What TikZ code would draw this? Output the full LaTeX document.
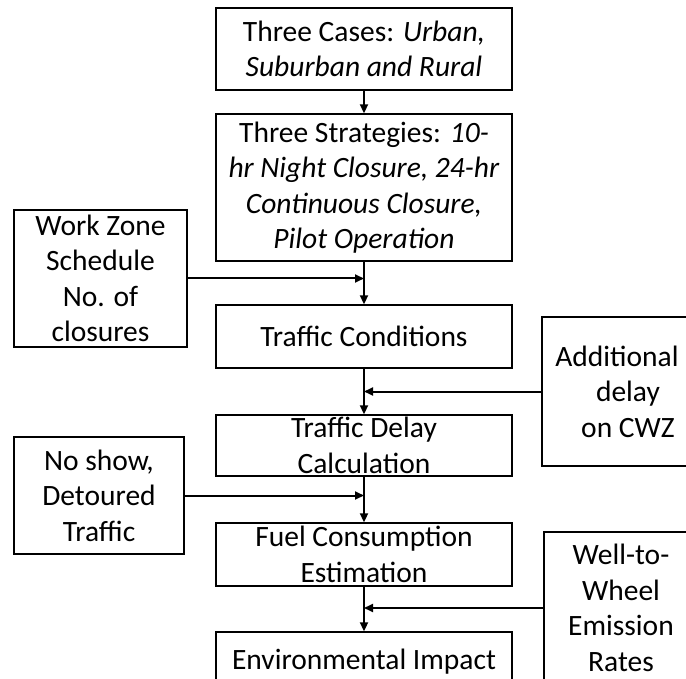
\documentclass[tikz,border=0pt]{standalone}
\usepackage{fontspec}
\setmainfont{Carlito}
\usetikzlibrary{arrows.meta}
\tikzset{
  box/.style={draw=black, line width=1.4pt, fill=white, align=center, inner sep=0pt,
    font=\fontsize{29.5}{35.5}\selectfont},
  arr/.style={line width=2pt, -{Triangle[length=9pt,width=8pt]}}
}
\begin{document}
\begin{tikzpicture}[x=1pt,y=-1pt]
\useasboundingbox (0,0) rectangle (686,679);
\clip (0,0) rectangle (686,679);
\node[box, minimum width=296pt, minimum height=82pt] (cases) at (364,49)
  {Three Cases: \textit{Urban,}\\ \textit{Suburban and Rural}};
\node[box, minimum width=296pt, minimum height=147pt] (strat) at (364,187.5)
  {Three Strategies: \textit{10-}\\ \textit{hr Night Closure, 24-hr}\\ \textit{Continuous Closure,}\\ \textit{Pilot Operation}};
\node[box, minimum width=173pt, minimum height=137pt] (wz) at (100.5,278.5)
  {Work Zone\\ Schedule\\ No. of\\ closures};
\node[box, minimum width=296pt, minimum height=63pt] (tc) at (364,336.5)
  {Traffic Conditions};
\node[box, minimum width=172pt, minimum height=149pt] (ad) at (628,391.5)
  {\makebox[0pt]{\hspace*{-22pt}Additional}\\ delay\\ on CWZ};
\node[box, minimum width=296pt, minimum height=61pt] (tdc) at (364,445.5)
  {Traffic Delay\\ Calculation};
\node[box, minimum width=170pt, minimum height=117pt] (ns) at (99,495.5)
  {No show,\\ Detoured\\ Traffic};
\node[box, minimum width=296pt, minimum height=63pt] (fuel) at (364,554.5)
  {Fuel Consumption\\ Estimation};
\node[box, minimum width=154pt, minimum height=152pt] (wtw) at (621,608)
  {Well-to-\\ Wheel\\ Emission\\ Rates};
\node[box, minimum width=296pt, minimum height=60pt] (env) at (364,662)
  {Environmental Impact};
\draw[arr] (cases.south) -- (strat.north);
\draw[arr] (strat.south) -- (tc.north);
\draw[arr] (wz.east) -- (wz.east -| strat.south);
\draw[arr] (tc.south) -- (tdc.north);
\draw[arr] (ad.west) -- (ad.west -| tc.south);
\draw[arr] (tdc.south) -- (fuel.north);
\draw[arr] (ns.east) -- (ns.east -| tdc.south);
\draw[arr] (fuel.south) -- (env.north);
\draw[arr] (wtw.west) -- (wtw.west -| fuel.south);
\end{tikzpicture}
\end{document}
